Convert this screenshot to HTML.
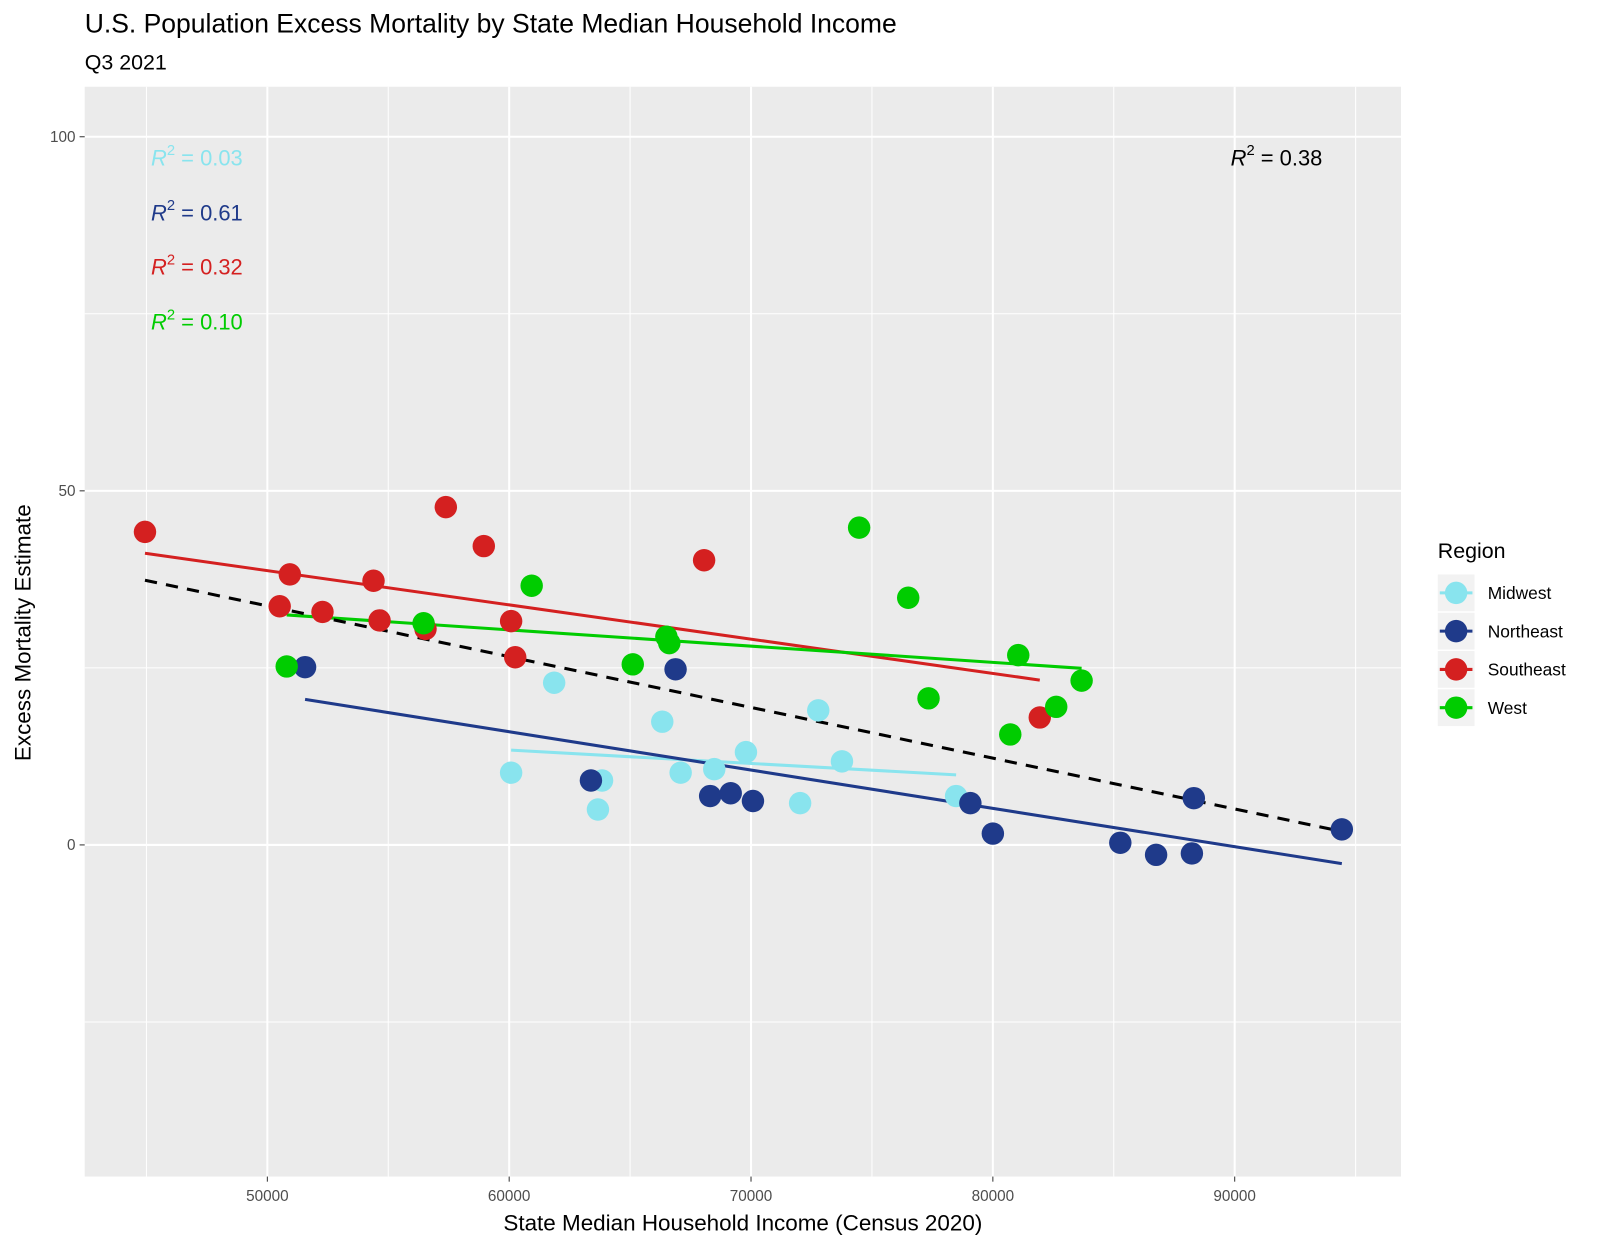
<!DOCTYPE html>
<html><head><meta charset="utf-8"><style>
body{margin:0;background:#fff;}
svg text{font-family:"Liberation Sans",Arial,sans-serif;}
</style></head><body>
<svg id="c" width="1600" height="1248" viewBox="0 0 1568 1223" xmlns="http://www.w3.org/2000/svg">
<text x="83" y="32" font-size="26" fill="#000">U.S. Population Excess Mortality by State Median Household Income</text>
<text x="83" y="68" font-size="21" fill="#000">Q3 2021</text>
<rect x="83" y="85" width="1290" height="1068" fill="#ebebeb"/>
<g id="grid"></g>
<g id="lines"></g>
<g id="pts"></g>
<g id="ticks"></g>
<text x="728" y="1206" font-size="22" text-anchor="middle">State Median Household Income (Census 2020)</text>
<text transform="translate(30,620) rotate(-90)" font-size="22" text-anchor="middle">Excess Mortality Estimate</text>
<g font-size="21.5">
<text x="148" y="162" fill="#89e4ee"><tspan font-style="italic">R</tspan><tspan dy="-10" font-size="14.5">2</tspan><tspan dy="10"> = 0.03</tspan></text>
<text x="148" y="216" fill="#1f3a8a"><tspan font-style="italic">R</tspan><tspan dy="-10" font-size="14.5">2</tspan><tspan dy="10"> = 0.61</tspan></text>
<text x="148" y="269" fill="#d42020"><tspan font-style="italic">R</tspan><tspan dy="-10" font-size="14.5">2</tspan><tspan dy="10"> = 0.32</tspan></text>
<text x="148" y="323" fill="#00cc00"><tspan font-style="italic">R</tspan><tspan dy="-10" font-size="14.5">2</tspan><tspan dy="10"> = 0.10</tspan></text>
<text x="1206" y="162" fill="#000"><tspan font-style="italic">R</tspan><tspan dy="-10" font-size="14.5">2</tspan><tspan dy="10"> = 0.38</tspan></text>
</g>
<g id="legend">
<text x="1409" y="547" font-size="21">Region</text>
</g>
</svg>
<script>
const regions=["Midwest","Northeast","Southeast","West"];
const colors=["#89e4ee","#1f3a8a","#d42020","#00cc00"];
const midwestX=[60080,61860,63670,63840,66330,67090,68480,69790,72030,72780,73760,78480];
const midwestY=[10.2,22.9,5.0,9.1,17.4,10.2,10.7,13.1,5.9,19.0,11.8,6.9];
const northeastX=[51560,63380,66880,68310,69160,70080,79070,80000,85270,86750,88230,88310,94430];
const northeastY=[25.1,9.1,24.8,6.9,7.3,6.2,5.9,1.6,0.3,-1.4,-1.2,6.6,2.2];
const southeastX=[44940,50930,50510,52280,54390,54640,56540,57380,58950,60080,60250,68060,81940];
const southeastY=[44.2,38.2,33.7,32.9,37.3,31.7,30.5,47.7,42.2,31.6,26.5,40.2,18.0];
const westX=[50800,56460,60930,65110,66500,66620,74470,76500,77340,80720,81050,82620,83670];
const westY=[25.2,31.3,36.6,25.5,29.4,28.5,44.8,34.9,20.7,15.6,26.8,19.5,23.2];
const xTicks=[50000,60000,70000,80000,90000];
const yTicks=[0,50,100];
const yMinor=[-25,25,75];
const xMinor=[45000,55000,65000,75000,85000,95000];
const NS="http://www.w3.org/2000/svg";
const sx=v=>262+(v-50000)*0.0237;
const sy=v=>828-v*6.94;
function mk(t,a,p){const e=document.createElementNS(NS,t);for(const k in a)e.setAttribute(k,a[k]);p.appendChild(e);return e;}
const G=document.getElementById('grid'),T=document.getElementById('ticks');
yMinor.forEach(v=>{const l=mk('line',{x1:83,x2:1373,y1:sy(v),y2:sy(v),stroke:'#fff','stroke-width':1},G);

});
xMinor.forEach(v=>{const l=mk('line',{x1:sx(v),x2:sx(v),y1:85,y2:1153,stroke:'#fff','stroke-width':1},G);

});
yTicks.forEach(v=>{const l=mk('line',{x1:83,x2:1373,y1:sy(v),y2:sy(v),stroke:'#fff','stroke-width':2},G);


mk('line',{x1:78,x2:83,y1:sy(v),y2:sy(v),stroke:'#333'},T);
const t=mk('text',{x:74,y:sy(v)+5,'font-size':15,fill:'#4d4d4d','text-anchor':'end'},T);t.textContent=v;

});
xTicks.forEach(v=>{const l=mk('line',{x1:sx(v),x2:sx(v),y1:85,y2:1153,stroke:'#fff','stroke-width':2},G);


mk('line',{x1:sx(v),x2:sx(v),y1:1153,y2:1158,stroke:'#333'},T);
const t=mk('text',{x:sx(v),y:1177,'font-size':15,fill:'#4d4d4d','text-anchor':'middle'},T);t.textContent=v;

});
const XS=[midwestX,northeastX,southeastX,westX],YS=[midwestY,northeastY,southeastY,westY];
function fit(X,Y){const n=X.length;let mx=0,my=0;X.forEach((x,i)=>{mx+=x;my+=Y[i]});mx/=n;my/=n;let sxy=0,sxx=0;X.forEach((x,i)=>{sxy+=(x-mx)*(Y[i]-my);sxx+=(x-mx)**2});const b=sxy/sxx;return [my-b*mx,b];}
const L=document.getElementById('lines'),P=document.getElementById('pts');
XS.forEach((X,r)=>{const [a,b]=fit(X,YS[r]);const x0=Math.min(...X),x1=Math.max(...X);
const l=mk('line',{x1:sx(x0),y1:sy(a+b*x0),x2:sx(x1),y2:sy(a+b*x1),stroke:colors[r],'stroke-width':3},L);

});
const AX=[].concat(...XS),AY=[].concat(...YS);
{const [a,b]=fit(AX,AY);const x0=Math.min(...AX),x1=Math.max(...AX);
const l=mk('line',{x1:sx(x0),y1:sy(a+b*x0),x2:sx(x1),y2:sy(a+b*x1),stroke:'#000','stroke-width':3,'stroke-dasharray':'12,9'},L);

}
XS.forEach((X,r)=>X.forEach((x,i)=>{const c=mk('circle',{cx:sx(x),cy:sy(YS[r][i]),r:11,fill:colors[r]},P);

}));
const LG=document.getElementById('legend');
regions.forEach((n,r)=>{const y=581+r*37.5;
mk('rect',{x:1409,y:y-18,width:36,height:36,fill:'#f2f2f2'},LG);
mk('line',{x1:1411,x2:1443,y1:y,y2:y,stroke:colors[r],'stroke-width':3},LG);
const c=mk('circle',{cx:1427,cy:y,r:11,fill:colors[r]},LG);


const t=mk('text',{x:1458,y:y+6,'font-size':17},LG);t.textContent=n;

});
</script>
</body></html>
